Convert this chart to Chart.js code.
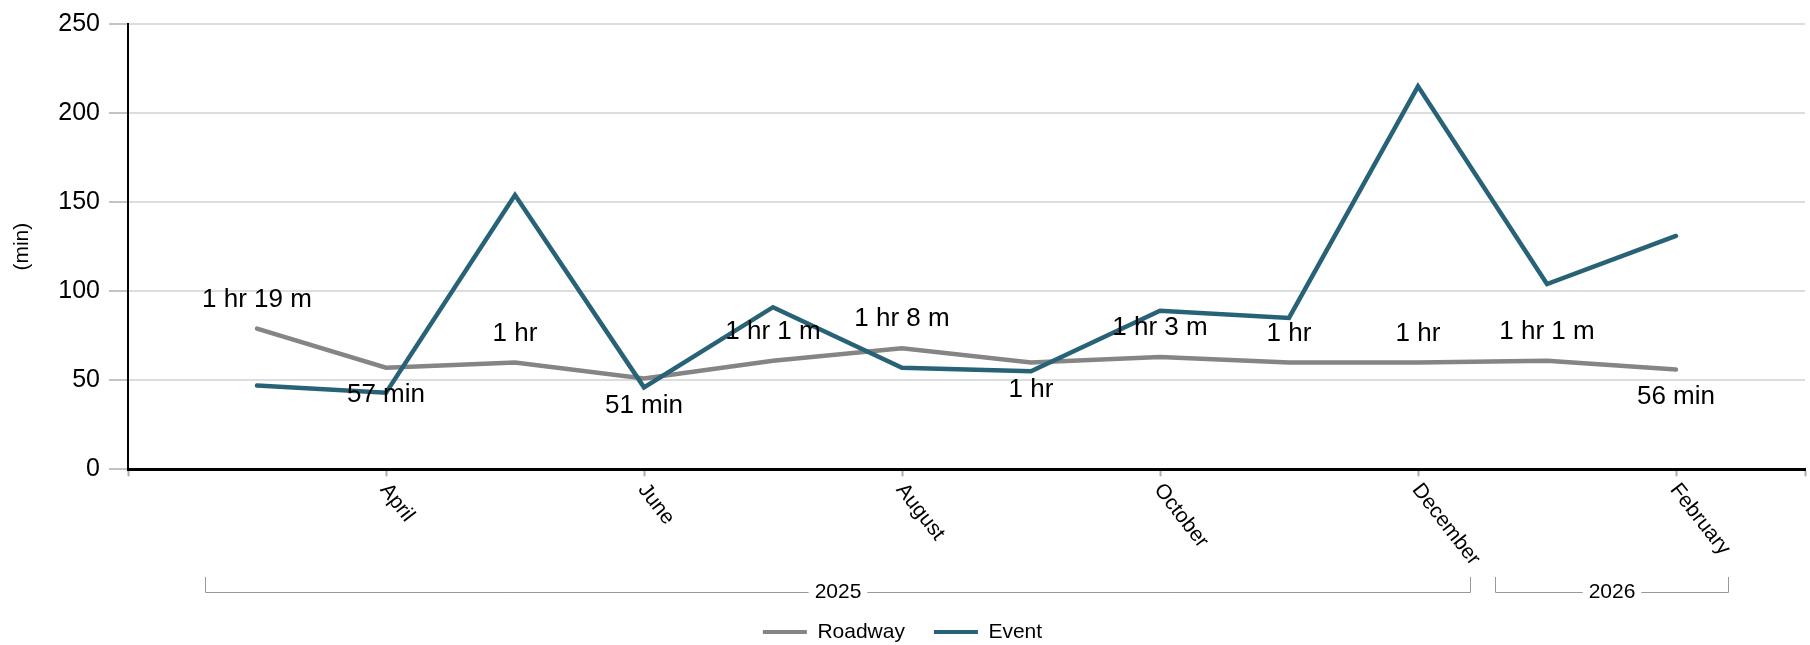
<!DOCTYPE html>
<html>
<head>
<meta charset="utf-8">
<script src="https://cdn.jsdelivr.net/npm/chart.js@4.4.1/dist/chart.umd.min.js"></script>
<style>
  html, body { margin: 0; padding: 0; background: #fff; }
  #wrap { width: 1810px; height: 645px; }
</style>
</head>
<body>
<div id="wrap"><canvas id="grafico"></canvas></div>
<script>
const months = ['March', 'April', 'May', 'June', 'July', 'August', 'September', 'October', 'November', 'December', 'January', 'February'];
const monthYears = [2025, 2025, 2025, 2025, 2025, 2025, 2025, 2025, 2025, 2025, 2026, 2026];
const roadway = [79, 57, 60, 51, 61, 68, 60, 63, 60, 60, 61, 56];
const event = [47, 43, 154, 46, 91, 57, 55, 89, 85, 215, 104, 131];
const yMax = 250;
const yStep = 50;

const FONT = '"Liberation Sans", Arial, sans-serif';

function formatMin(v) {
  if (v < 60) return v + ' min';
  const h = Math.floor(v / 60);
  const m = v % 60;
  return m ? h + ' hr ' + m + ' m' : h + ' hr';
}

// agrupar meses consecutivos por año
function yearGroups() {
  const groups = [];
  monthYears.forEach((y, i) => {
    const last = groups[groups.length - 1];
    if (last && last.year === y) last.end = i;
    else groups.push({ year: y, start: i, end: i });
  });
  return groups;
}

const extras = {
  id: 'extras',
  afterDatasetsDraw(chart) {
    const ctx = chart.ctx;
    const meta = chart.getDatasetMeta(0);
    ctx.save();
    ctx.font = '26px ' + FONT;
    ctx.fillStyle = '#000';
    ctx.textAlign = 'center';
    ctx.textBaseline = 'middle';
    meta.data.forEach((pt, i) => {
      const v = roadway[i];
      const prev = roadway[i - 1];
      const next = roadway[i + 1];
      const below = i > 0 && v < prev && (next === undefined || v < next);
      ctx.fillText(formatMin(v), pt.x, below ? pt.y + 27 : pt.y - 29);
    });
    ctx.restore();
  },
  afterDraw(chart) {
    const ctx = chart.ctx;
    const xs = chart.scales.x;
    ctx.save();
    // etiquetas de meses giradas
    ctx.font = '21px ' + FONT;
    ctx.fillStyle = '#000';
    ctx.textAlign = 'left';
    ctx.textBaseline = 'middle';
    xs.ticks.forEach(t => {
      const i = t.value - 1;
      if (i < 0 || i >= months.length) return;
      const x = xs.getPixelForValue(t.value);
      ctx.save();
      ctx.translate(x - 2, xs.top + 17);
      ctx.rotate(52 * Math.PI / 180);
      ctx.fillText(months[i], 0, 0);
      ctx.restore();
    });
    // corchetes de año
    const yLine = 592;
    ctx.strokeStyle = '#999';
    ctx.lineWidth = 1;
    ctx.textAlign = 'center';
    yearGroups().forEach(g => {
      const x1 = Math.round(xs.getPixelForValue(g.start + 1 - 0.4)) + 0.5;
      const x2 = Math.round(xs.getPixelForValue(g.end + 1 + 0.4)) + 0.5;
      const mid = (x1 + x2) / 2;
      const label = String(g.year);
      const half = ctx.measureText(label).width / 2 + 6;
      ctx.beginPath();
      ctx.moveTo(x1, yLine - 15);
      ctx.lineTo(x1, yLine + 0.5);
      ctx.lineTo(mid - half, yLine + 0.5);
      ctx.moveTo(mid + half, yLine + 0.5);
      ctx.lineTo(x2, yLine + 0.5);
      ctx.lineTo(x2, yLine - 15);
      ctx.stroke();
      ctx.fillText(label, mid, yLine);
    });
    ctx.restore();
  }
};

const ctx = document.getElementById('grafico').getContext('2d');
new Chart(ctx, {
  type: 'line',
  data: {
    datasets: [
      {
        label: 'Roadway',
        data: roadway.map((v, i) => ({ x: i + 1, y: v })),
        borderColor: '#858585',
        backgroundColor: '#858585',
        borderWidth: 4.5,
        borderCapStyle: 'round',
        pointRadius: 0,
        tension: 0,
        order: 1
      },
      {
        label: 'Event',
        data: event.map((v, i) => ({ x: i + 1, y: v })),
        borderColor: '#286276',
        backgroundColor: '#286276',
        borderWidth: 4.5,
        borderCapStyle: 'round',
        pointRadius: 0,
        tension: 0,
        order: 0
      }
    ]
  },
  options: {
    responsive: true,
    maintainAspectRatio: false,
    animation: false,
    layout: { padding: { top: 20.7, right: 5, bottom: -7.5, left: 0 } },
    scales: {
      x: {
        type: 'linear',
        min: 0,
        max: months.length + 1,
        ticks: { stepSize: 2, display: false },
        grid: { drawOnChartArea: false, drawTicks: true, tickLength: 7, tickColor: '#aaa', tickWidth: 2 },
        border: { color: '#000', width: 3 },
        afterFit(scale) { scale.height = 123.2; }
      },
      y: {
        min: 0,
        max: yMax,
        ticks: { stepSize: yStep, color: '#000', padding: 9, font: { size: 25, family: FONT } },
        grid: { color: '#dddddd', lineWidth: 2, tickLength: 19, tickColor: '#888', tickWidth: 1 },
        border: { color: '#000', width: 2 },
        title: { display: true, text: '(min)', color: '#000', font: { size: 21, family: FONT }, padding: { top: 10, bottom: 0 } },
        afterFit(scale) { scale.width = 128; }
      }
    },
    plugins: {
      tooltip: { enabled: false },
      legend: {
        position: 'bottom',
        labels: {
          boxWidth: 44,
          boxHeight: 4,
          padding: 29,
          color: '#000',
          font: { size: 21, family: FONT },
          generateLabels(chart) {
            return chart.data.datasets.map((ds, i) => ({
              text: ds.label,
              fillStyle: ds.borderColor,
              strokeStyle: ds.borderColor,
              lineWidth: 0,
              hidden: false,
              datasetIndex: i,
              fontColor: '#000'
            }));
          }
        }
      }
    }
  },
  plugins: [extras]
});
</script>
</body>
</html>
